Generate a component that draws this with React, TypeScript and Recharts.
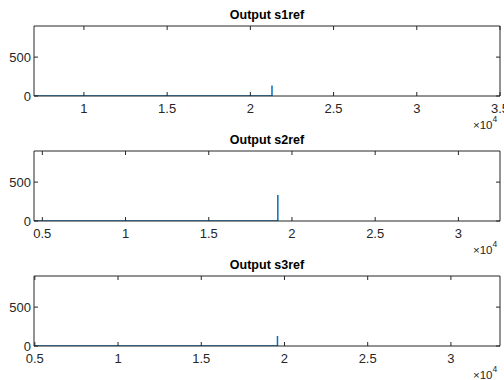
import React from "react";
import { LineChart, Line, XAxis, YAxis, Label } from "recharts";

// Values (x in samples, y in amplitude)
const s1X = [7000, 21300, 21300];
const s1Y = [0, 0, 135];
const s2X = [4500, 19150, 19150];
const s2Y = [0, 0, 334];
const s3X = [4950, 19580, 19580];
const s3Y = [0, 0, 128];

const s1Ticks = [10000, 15000, 20000, 25000, 30000, 35000];
const s2Ticks = [5000, 10000, 15000, 20000, 25000, 30000];
const s3Ticks = [5000, 10000, 15000, 20000, 25000, 30000];
const yTicks = [0, 500];

const titles = ["Output s1ref", "Output s2ref", "Output s3ref"];

const FONT = '"Liberation Sans", Arial, sans-serif';
const INK = "#262626";
const BLUE = "#0072BD";

const toRows = (xs: number[], ys: number[]) => xs.map((x, i) => ({ x, y: ys[i] }));

function Exponent(props: any) {
  const vb = props.viewBox || {};
  return (
    <text
      x={vb.x + vb.width - 27}
      y={vb.y + 33}
      fontSize={11.5}
      fill={INK}
      fontFamily={FONT}
    >
      ×10
      <tspan dy={-7} fontSize={8.5}>
        4
      </tspan>
    </text>
  );
}

interface PanelProps {
  title: string;
  xs: number[];
  ys: number[];
  domain: [number, number];
  ticks: number[];
  top: number;
  height: number;
}

function Panel({ title, xs, ys, domain, ticks, top, height }: PanelProps) {
  const data = toRows(xs, ys);
  const axisLine = { stroke: INK, strokeWidth: 1 };
  return (
    <div style={{ position: "absolute", left: 0, top }}>
      <LineChart
        width={504}
        height={height}
        data={data}
        margin={{ top: 25, right: 3, bottom: 0, left: 0 }}
      >
        <XAxis
          xAxisId="b"
          dataKey="x"
          type="number"
          domain={domain}
          allowDataOverflow
          ticks={ticks}
          interval={0}
          height={height - 96}
          tickSize={-4}
          tickMargin={12}
          axisLine={axisLine}
          tickLine={{ stroke: INK }}
          tick={{ fill: INK, fontSize: 13, fontFamily: FONT }}
          tickFormatter={(v: number) => String(v / 10000)}
        >
          <Label content={<Exponent />} />
        </XAxis>
        <XAxis
          xAxisId="t"
          dataKey="x"
          type="number"
          orientation="top"
          domain={domain}
          allowDataOverflow
          ticks={ticks}
          interval={0}
          height={1}
          tickSize={-4}
          axisLine={axisLine}
          tickLine={{ stroke: INK }}
          tickFormatter={() => ""}
        >
          <Label
            value={title}
            position="top"
            offset={6}
            style={{ fontFamily: FONT, fontSize: 12.5, fontWeight: "bold", fill: "#000" }}
          />
        </XAxis>
        <YAxis
          yAxisId="l"
          type="number"
          domain={[0, 900]}
          allowDataOverflow
          ticks={yTicks}
          interval={0}
          width={34}
          tickSize={-4}
          tickMargin={7}
          axisLine={axisLine}
          tickLine={{ stroke: INK }}
          tick={{ fill: INK, fontSize: 13, fontFamily: FONT }}
        />
        <YAxis
          yAxisId="r"
          type="number"
          orientation="right"
          domain={[0, 900]}
          allowDataOverflow
          ticks={yTicks}
          interval={0}
          width={1}
          tickSize={-4}
          axisLine={axisLine}
          tickLine={{ stroke: INK }}
          tickFormatter={() => ""}
        />
        <Line
          xAxisId="t"
          yAxisId="r"
          dataKey="y"
          stroke="none"
          dot={false}
          legendType="none"
          isAnimationActive={false}
        />
        <Line
          xAxisId="b"
          yAxisId="l"
          dataKey="y"
          type="linear"
          stroke={BLUE}
          strokeWidth={1.5}
          dot={false}
          isAnimationActive={false}
        />
      </LineChart>
    </div>
  );
}

export default function App() {
  return (
    <div
      style={{
        position: "absolute",
        left: 0,
        top: 0,
        width: 504,
        height: 380,
        background: "#fff",
        overflow: "hidden",
      }}
    >
      <Panel title={titles[0]} xs={s1X} ys={s1Y} domain={[7000, 35000]} ticks={s1Ticks} top={0} height={135} />
      <Panel title={titles[1]} xs={s2X} ys={s2Y} domain={[4500, 32500]} ticks={s2Ticks} top={125} height={135} />
      <Panel title={titles[2]} xs={s3X} ys={s3Y} domain={[4950, 32950]} ticks={s3Ticks} top={250} height={130} />
    </div>
  );
}
